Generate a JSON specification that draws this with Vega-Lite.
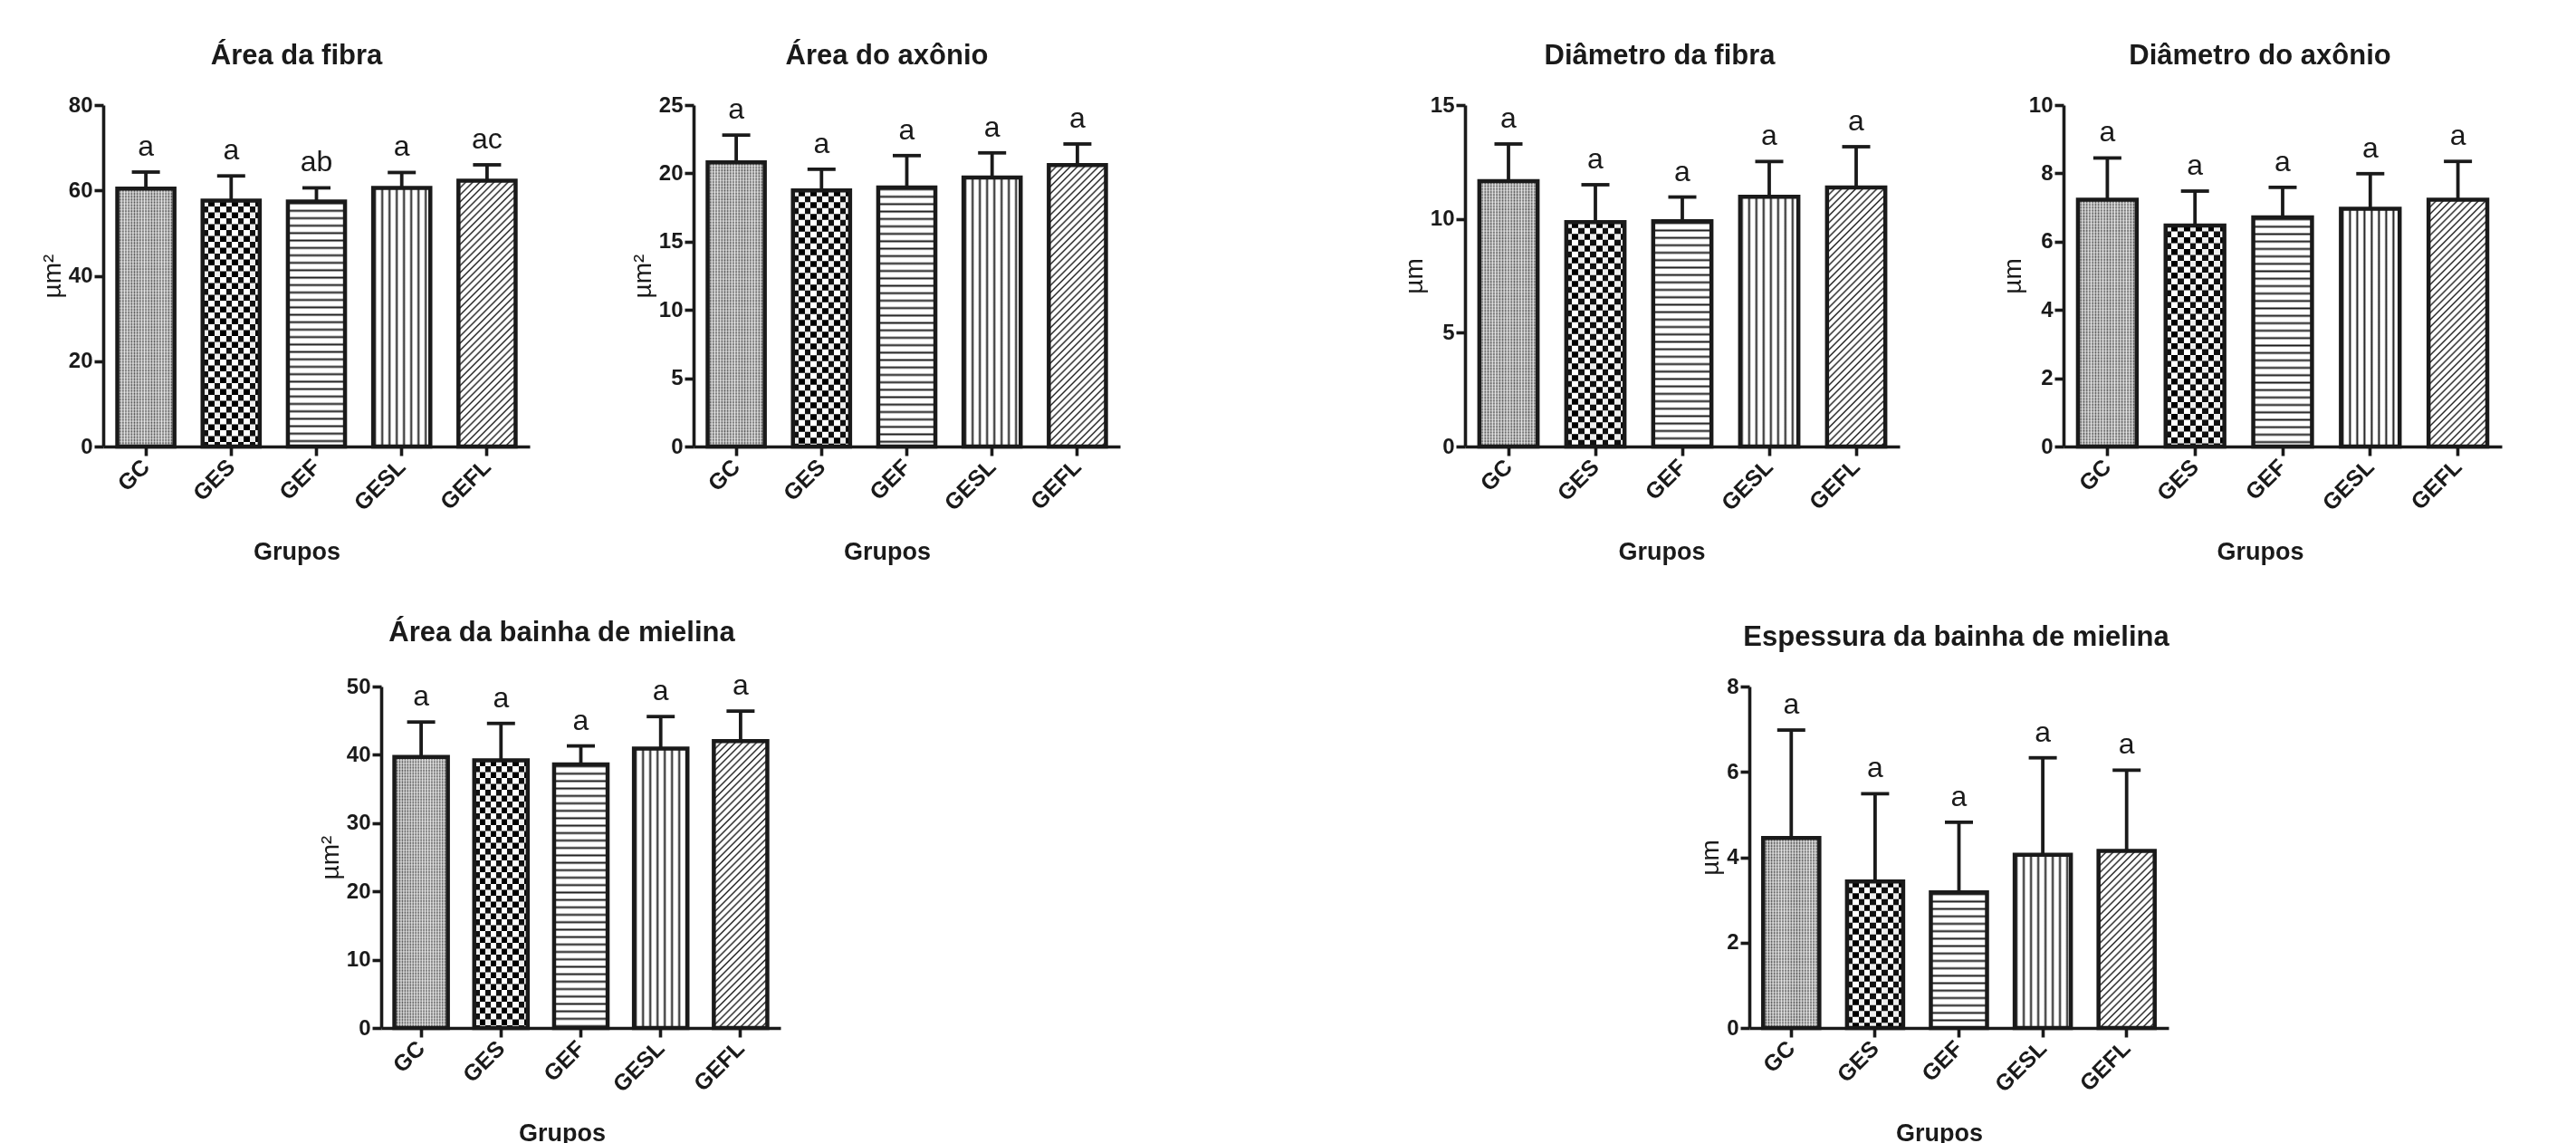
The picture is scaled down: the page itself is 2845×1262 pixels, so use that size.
{
"$schema":"https://vega.github.io/schema/vega-lite/v6.json",
"background":"white",
"padding":{"left":44,"top":46,"right":5,"bottom":5},
"config":{
"font":"Liberation Sans",
"view":{"stroke":null},
"title":{"fontSize":31,"fontWeight":"bold","color":"#1a1a1a","offset":26,"frame":"group","anchor":"middle"},
"axis":{"domainColor":"#1a1a1a","domainWidth":3.6,"tickColor":"#1a1a1a","tickWidth":3.6,"tickSize":10,"labelFontWeight":"bold","labelFontSize":24,"labelColor":"#1a1a1a","titleColor":"#1a1a1a","grid":false},
"axisX":{"labelAngle":-45,"labelAlign":"right","labelBaseline":"middle","labelFontSize":25,"labelPadding":8,"labelOverlap":false,"titleFontSize":27,"titleFontWeight":"bold","titleY":116,"titleBaseline":"middle"},
"axisY":{"labelPadding":2,"titleFontSize":28,"titleFontWeight":"normal","titlePadding":3}
},
"params":[
{"name":"hs","value":[
{"offset":0,"color":"#fff"},{"offset":0.005,"color":"#1a1a1a"},{"offset":0.01,"color":"#fff"},
{"offset":0.02,"color":"#fff"},{"offset":0.025,"color":"#1a1a1a"},{"offset":0.03,"color":"#fff"},
{"offset":0.04,"color":"#fff"},{"offset":0.045,"color":"#1a1a1a"},{"offset":0.05,"color":"#fff"},
{"offset":0.06,"color":"#fff"},{"offset":0.065,"color":"#1a1a1a"},{"offset":0.07,"color":"#fff"},
{"offset":0.08,"color":"#fff"},{"offset":0.085,"color":"#1a1a1a"},{"offset":0.09,"color":"#fff"},
{"offset":0.1,"color":"#fff"},{"offset":0.105,"color":"#1a1a1a"},{"offset":0.11,"color":"#fff"},
{"offset":0.12,"color":"#fff"},{"offset":0.125,"color":"#1a1a1a"},{"offset":0.13,"color":"#fff"},
{"offset":0.14,"color":"#fff"},{"offset":0.145,"color":"#1a1a1a"},{"offset":0.15,"color":"#fff"},
{"offset":0.16,"color":"#fff"},{"offset":0.165,"color":"#1a1a1a"},{"offset":0.17,"color":"#fff"},
{"offset":0.18,"color":"#fff"},{"offset":0.185,"color":"#1a1a1a"},{"offset":0.19,"color":"#fff"},
{"offset":0.2,"color":"#fff"},{"offset":0.205,"color":"#1a1a1a"},{"offset":0.21,"color":"#fff"},
{"offset":0.22,"color":"#fff"},{"offset":0.225,"color":"#1a1a1a"},{"offset":0.23,"color":"#fff"},
{"offset":0.24,"color":"#fff"},{"offset":0.245,"color":"#1a1a1a"},{"offset":0.25,"color":"#fff"},
{"offset":0.26,"color":"#fff"},{"offset":0.265,"color":"#1a1a1a"},{"offset":0.27,"color":"#fff"},
{"offset":0.28,"color":"#fff"},{"offset":0.285,"color":"#1a1a1a"},{"offset":0.29,"color":"#fff"},
{"offset":0.3,"color":"#fff"},{"offset":0.305,"color":"#1a1a1a"},{"offset":0.31,"color":"#fff"},
{"offset":0.32,"color":"#fff"},{"offset":0.325,"color":"#1a1a1a"},{"offset":0.33,"color":"#fff"},
{"offset":0.34,"color":"#fff"},{"offset":0.345,"color":"#1a1a1a"},{"offset":0.35,"color":"#fff"},
{"offset":0.36,"color":"#fff"},{"offset":0.365,"color":"#1a1a1a"},{"offset":0.37,"color":"#fff"},
{"offset":0.38,"color":"#fff"},{"offset":0.385,"color":"#1a1a1a"},{"offset":0.39,"color":"#fff"},
{"offset":0.4,"color":"#fff"},{"offset":0.405,"color":"#1a1a1a"},{"offset":0.41,"color":"#fff"},
{"offset":0.42,"color":"#fff"},{"offset":0.425,"color":"#1a1a1a"},{"offset":0.43,"color":"#fff"},
{"offset":0.44,"color":"#fff"},{"offset":0.445,"color":"#1a1a1a"},{"offset":0.45,"color":"#fff"},
{"offset":0.46,"color":"#fff"},{"offset":0.465,"color":"#1a1a1a"},{"offset":0.47,"color":"#fff"},
{"offset":0.48,"color":"#fff"},{"offset":0.485,"color":"#1a1a1a"},{"offset":0.49,"color":"#fff"},
{"offset":0.5,"color":"#fff"},{"offset":0.505,"color":"#1a1a1a"},{"offset":0.51,"color":"#fff"},
{"offset":0.52,"color":"#fff"},{"offset":0.525,"color":"#1a1a1a"},{"offset":0.53,"color":"#fff"},
{"offset":0.54,"color":"#fff"},{"offset":0.545,"color":"#1a1a1a"},{"offset":0.55,"color":"#fff"},
{"offset":0.56,"color":"#fff"},{"offset":0.565,"color":"#1a1a1a"},{"offset":0.57,"color":"#fff"},
{"offset":0.58,"color":"#fff"},{"offset":0.585,"color":"#1a1a1a"},{"offset":0.59,"color":"#fff"},
{"offset":0.6,"color":"#fff"},{"offset":0.605,"color":"#1a1a1a"},{"offset":0.61,"color":"#fff"},
{"offset":0.62,"color":"#fff"},{"offset":0.625,"color":"#1a1a1a"},{"offset":0.63,"color":"#fff"},
{"offset":0.64,"color":"#fff"},{"offset":0.645,"color":"#1a1a1a"},{"offset":0.65,"color":"#fff"},
{"offset":0.66,"color":"#fff"},{"offset":0.665,"color":"#1a1a1a"},{"offset":0.67,"color":"#fff"},
{"offset":0.68,"color":"#fff"},{"offset":0.685,"color":"#1a1a1a"},{"offset":0.69,"color":"#fff"},
{"offset":0.7,"color":"#fff"},{"offset":0.705,"color":"#1a1a1a"},{"offset":0.71,"color":"#fff"},
{"offset":0.72,"color":"#fff"},{"offset":0.725,"color":"#1a1a1a"},{"offset":0.73,"color":"#fff"},
{"offset":0.74,"color":"#fff"},{"offset":0.745,"color":"#1a1a1a"},{"offset":0.75,"color":"#fff"},
{"offset":0.76,"color":"#fff"},{"offset":0.765,"color":"#1a1a1a"},{"offset":0.77,"color":"#fff"},
{"offset":0.78,"color":"#fff"},{"offset":0.785,"color":"#1a1a1a"},{"offset":0.79,"color":"#fff"},
{"offset":0.8,"color":"#fff"},{"offset":0.805,"color":"#1a1a1a"},{"offset":0.81,"color":"#fff"},
{"offset":0.82,"color":"#fff"},{"offset":0.825,"color":"#1a1a1a"},{"offset":0.83,"color":"#fff"},
{"offset":0.84,"color":"#fff"},{"offset":0.845,"color":"#1a1a1a"},{"offset":0.85,"color":"#fff"},
{"offset":0.86,"color":"#fff"},{"offset":0.865,"color":"#1a1a1a"},{"offset":0.87,"color":"#fff"},
{"offset":0.88,"color":"#fff"},{"offset":0.885,"color":"#1a1a1a"},{"offset":0.89,"color":"#fff"},
{"offset":0.9,"color":"#fff"},{"offset":0.905,"color":"#1a1a1a"},{"offset":0.91,"color":"#fff"},
{"offset":0.92,"color":"#fff"},{"offset":0.925,"color":"#1a1a1a"},{"offset":0.93,"color":"#fff"},
{"offset":0.94,"color":"#fff"},{"offset":0.945,"color":"#1a1a1a"},{"offset":0.95,"color":"#fff"},
{"offset":0.96,"color":"#fff"},{"offset":0.965,"color":"#1a1a1a"},{"offset":0.97,"color":"#fff"},
{"offset":0.98,"color":"#fff"},{"offset":0.985,"color":"#1a1a1a"},{"offset":0.99,"color":"#fff"},
{"offset":1,"color":"#fff"}
]},
{"name":"gSq","value":{"gradient":"linear","x1":0,"y1":0,"x2":1.65,"y2":0,"stops":[
{"offset":0,"color":"#111"},{"offset":0.0625,"color":"#111"},{"offset":0.0625,"color":"#fff"},{"offset":0.125,"color":"#fff"},
{"offset":0.125,"color":"#111"},{"offset":0.1875,"color":"#111"},{"offset":0.1875,"color":"#fff"},{"offset":0.25,"color":"#fff"},
{"offset":0.25,"color":"#111"},{"offset":0.3125,"color":"#111"},{"offset":0.3125,"color":"#fff"},{"offset":0.375,"color":"#fff"},
{"offset":0.375,"color":"#111"},{"offset":0.4375,"color":"#111"},{"offset":0.4375,"color":"#fff"},{"offset":0.5,"color":"#fff"},
{"offset":0.5,"color":"#111"},{"offset":0.5625,"color":"#111"},{"offset":0.5625,"color":"#fff"},{"offset":0.625,"color":"#fff"},
{"offset":0.625,"color":"#111"},{"offset":0.6875,"color":"#111"},{"offset":0.6875,"color":"#fff"},{"offset":0.75,"color":"#fff"},
{"offset":0.75,"color":"#111"},{"offset":0.8125,"color":"#111"},{"offset":0.8125,"color":"#fff"},{"offset":0.875,"color":"#fff"},
{"offset":0.875,"color":"#111"},{"offset":0.9375,"color":"#111"},{"offset":0.9375,"color":"#fff"},{"offset":1,"color":"#fff"}
]}},
{"name":"gFine","value":{"gradient":"linear","x1":0,"y1":0,"x2":1,"y2":0,"stops":[
{"offset":0,"color":"#555"},{"offset":0.025,"color":"#dddddd"},{"offset":0.05,"color":"#555"},{"offset":0.075,"color":"#dddddd"},
{"offset":0.1,"color":"#555"},{"offset":0.125,"color":"#dddddd"},{"offset":0.15,"color":"#555"},{"offset":0.175,"color":"#dddddd"},
{"offset":0.2,"color":"#555"},{"offset":0.225,"color":"#dddddd"},{"offset":0.25,"color":"#555"},{"offset":0.275,"color":"#dddddd"},
{"offset":0.3,"color":"#555"},{"offset":0.325,"color":"#dddddd"},{"offset":0.35,"color":"#555"},{"offset":0.375,"color":"#dddddd"},
{"offset":0.4,"color":"#555"},{"offset":0.425,"color":"#dddddd"},{"offset":0.45,"color":"#555"},{"offset":0.475,"color":"#dddddd"},
{"offset":0.5,"color":"#555"},{"offset":0.525,"color":"#dddddd"},{"offset":0.55,"color":"#555"},{"offset":0.575,"color":"#dddddd"},
{"offset":0.6,"color":"#555"},{"offset":0.625,"color":"#dddddd"},{"offset":0.65,"color":"#555"},{"offset":0.675,"color":"#dddddd"},
{"offset":0.7,"color":"#555"},{"offset":0.725,"color":"#dddddd"},{"offset":0.75,"color":"#555"},{"offset":0.775,"color":"#dddddd"},
{"offset":0.8,"color":"#555"},{"offset":0.825,"color":"#dddddd"},{"offset":0.85,"color":"#555"},{"offset":0.875,"color":"#dddddd"},
{"offset":0.9,"color":"#555"},{"offset":0.925,"color":"#dddddd"},{"offset":0.95,"color":"#555"},{"offset":0.975,"color":"#dddddd"},
{"offset":1,"color":"#555"}
]}}
],
"datasets":{
"p1":[{"grupo":"GC","media":60.4,"limite":64.3,"letra":"a"},{"grupo":"GES","media":57.6,"limite":63.4,"letra":"a"},{"grupo":"GEF","media":57.4,"limite":60.6,"letra":"ab"},{"grupo":"GESL","media":60.6,"limite":64.2,"letra":"a"},{"grupo":"GEFL","media":62.3,"limite":66.0,"letra":"ac"}],
"p2":[{"grupo":"GC","media":20.8,"limite":22.8,"letra":"a"},{"grupo":"GES","media":18.75,"limite":20.3,"letra":"a"},{"grupo":"GEF","media":18.97,"limite":21.3,"letra":"a"},{"grupo":"GESL","media":19.7,"limite":21.5,"letra":"a"},{"grupo":"GEFL","media":20.6,"limite":22.15,"letra":"a"}],
"p3":[{"grupo":"GC","media":11.66,"limite":13.29,"letra":"a"},{"grupo":"GES","media":9.86,"limite":11.5,"letra":"a"},{"grupo":"GEF","media":9.9,"limite":10.96,"letra":"a"},{"grupo":"GESL","media":10.97,"limite":12.52,"letra":"a"},{"grupo":"GEFL","media":11.38,"limite":13.17,"letra":"a"}],
"p4":[{"grupo":"GC","media":7.23,"limite":8.45,"letra":"a"},{"grupo":"GES","media":6.47,"limite":7.48,"letra":"a"},{"grupo":"GEF","media":6.71,"limite":7.59,"letra":"a"},{"grupo":"GESL","media":6.96,"limite":7.99,"letra":"a"},{"grupo":"GEFL","media":7.23,"limite":8.35,"letra":"a"}],
"p5":[{"grupo":"GC","media":39.7,"limite":44.8,"letra":"a"},{"grupo":"GES","media":39.2,"limite":44.6,"letra":"a"},{"grupo":"GEF","media":38.6,"limite":41.3,"letra":"a"},{"grupo":"GESL","media":40.9,"limite":45.6,"letra":"a"},{"grupo":"GEFL","media":42.0,"limite":46.4,"letra":"a"}],
"p6":[{"grupo":"GC","media":4.45,"limite":6.98,"letra":"a"},{"grupo":"GES","media":3.43,"limite":5.49,"letra":"a"},{"grupo":"GEF","media":3.18,"limite":4.82,"letra":"a"},{"grupo":"GESL","media":4.06,"limite":6.33,"letra":"a"},{"grupo":"GEFL","media":4.15,"limite":6.04,"letra":"a"}]
},
"bounds":"flush",
"spacing":642,
"vconcat":[
{"bounds":"flush","spacing":181,"hconcat":[
{"width":471,"height":377,"data":{"name":"p1"},"title":{"text":"Área da fibra","dx":-22},
"encoding":{"x":{"field":"grupo","type":"nominal","sort":["GC","GES","GEF","GESL","GEFL"],"scale":{"paddingInner":0.33,"paddingOuter":0.165},"axis":{"title":"Grupos","titleX":213.5}},
"y":{"field":"media","type":"quantitative","scale":{"domain":[0,80],"nice":false},"axis":{"values":[0,20,40,60,80],"title":"µm²"}}},
"layer":[
{"transform":[{"filter":"datum.grupo==='GC'"}],"mark":{"type":"bar","fill":{"expr":"gFine"},"strokeWidth":0}},
{"transform":[{"filter":"datum.grupo==='GC'"}],"mark":{"type":"rule","stroke":"#ffffff","strokeWidth":63.1,"strokeDash":[1.6,1.6],"opacity":0.4},"encoding":{"y2":{"datum":0}}},
{"transform":[{"filter":"datum.grupo==='GES'"}],"mark":{"type":"bar","fill":{"expr":"gSq"},"strokeWidth":0}},
{"transform":[{"filter":"datum.grupo==='GES'"}],"mark":{"type":"rule","stroke":"#ffffff","strokeWidth":63.1,"strokeDash":[6.5,6.5],"blend":"difference"},"encoding":{"y2":{"datum":0}}},
{"transform":[{"filter":"datum.grupo==='GEF'"}],"mark":{"type":"bar","fill":{"expr":"{gradient:'linear',x1:0,y1:0,x2:0,y2:1.516,stops:hs}"},"strokeWidth":0}},
{"transform":[{"filter":"datum.grupo==='GESL'"}],"mark":{"type":"bar","fill":{"expr":"{gradient:'linear',x1:0,y1:0,x2:6.339,y2:0,stops:hs}"},"strokeWidth":0}},
{"transform":[{"filter":"datum.grupo==='GEFL'"}],"mark":{"type":"bar","fill":{"expr":"{gradient:'linear',x1:0,y1:0,x2:0.2729,y2:1.2697,stops:hs}"},"strokeWidth":0}},
{"mark":{"type":"bar","fillOpacity":0,"stroke":"#1a1a1a","strokeWidth":4.5}},
{"mark":{"type":"rule","stroke":"#1a1a1a","strokeWidth":3.8},"encoding":{"y":{"field":"limite","type":"quantitative","title":"µm²"},"y2":{"field":"media"}}},
{"mark":{"type":"tick","color":"#1a1a1a","size":31,"thickness":3.8,"opacity":1},"encoding":{"y":{"field":"limite","type":"quantitative","title":"µm²"}}},
{"mark":{"type":"text","dy":-18,"baseline":"alphabetic","fontSize":32,"color":"#1a1a1a"},"encoding":{"y":{"field":"limite","type":"quantitative","title":"µm²"},"text":{"field":"letra","type":"nominal"}}}
]},
{"width":471,"height":377,"data":{"name":"p2"},"title":{"text":"Área do axônio","dx":-22},
"encoding":{"x":{"field":"grupo","type":"nominal","sort":["GC","GES","GEF","GESL","GEFL"],"scale":{"paddingInner":0.33,"paddingOuter":0.165},"axis":{"title":"Grupos","titleX":213.5}},
"y":{"field":"media","type":"quantitative","scale":{"domain":[0,25],"nice":false},"axis":{"values":[0,5,10,15,20,25],"title":"µm²"}}},
"layer":[
{"transform":[{"filter":"datum.grupo==='GC'"}],"mark":{"type":"bar","fill":{"expr":"gFine"},"strokeWidth":0}},
{"transform":[{"filter":"datum.grupo==='GC'"}],"mark":{"type":"rule","stroke":"#ffffff","strokeWidth":63.1,"strokeDash":[1.6,1.6],"opacity":0.4},"encoding":{"y2":{"datum":0}}},
{"transform":[{"filter":"datum.grupo==='GES'"}],"mark":{"type":"bar","fill":{"expr":"gSq"},"strokeWidth":0}},
{"transform":[{"filter":"datum.grupo==='GES'"}],"mark":{"type":"rule","stroke":"#ffffff","strokeWidth":63.1,"strokeDash":[6.5,6.5],"blend":"difference"},"encoding":{"y2":{"datum":0}}},
{"transform":[{"filter":"datum.grupo==='GEF'"}],"mark":{"type":"bar","fill":{"expr":"{gradient:'linear',x1:0,y1:0,x2:0,y2:1.433,stops:hs}"},"strokeWidth":0}},
{"transform":[{"filter":"datum.grupo==='GESL'"}],"mark":{"type":"bar","fill":{"expr":"{gradient:'linear',x1:0,y1:0,x2:6.339,y2:0,stops:hs}"},"strokeWidth":0}},
{"transform":[{"filter":"datum.grupo==='GEFL'"}],"mark":{"type":"bar","fill":{"expr":"{gradient:'linear',x1:0,y1:0,x2:0.2450,y2:1.2059,stops:hs}"},"strokeWidth":0}},
{"mark":{"type":"bar","fillOpacity":0,"stroke":"#1a1a1a","strokeWidth":4.5}},
{"mark":{"type":"rule","stroke":"#1a1a1a","strokeWidth":3.8},"encoding":{"y":{"field":"limite","type":"quantitative","title":"µm²"},"y2":{"field":"media"}}},
{"mark":{"type":"tick","color":"#1a1a1a","size":31,"thickness":3.8,"opacity":1},"encoding":{"y":{"field":"limite","type":"quantitative","title":"µm²"}}},
{"mark":{"type":"text","dy":-18,"baseline":"alphabetic","fontSize":32,"color":"#1a1a1a"},"encoding":{"y":{"field":"limite","type":"quantitative","title":"µm²"},"text":{"field":"letra","type":"nominal"}}}
]},
{"width":19,"height":377,"data":{"values":[]},"mark":"point","encoding":{}},
{"width":480,"height":377,"data":{"name":"p3"},"title":{"text":"Diâmetro da fibra","dx":-25},
"encoding":{"x":{"field":"grupo","type":"nominal","sort":["GC","GES","GEF","GESL","GEFL"],"scale":{"paddingInner":0.33,"paddingOuter":0.165},"axis":{"title":"Grupos","titleX":217}},
"y":{"field":"media","type":"quantitative","scale":{"domain":[0,15],"nice":false},"axis":{"values":[0,5,10,15],"title":"µm"}}},
"layer":[
{"transform":[{"filter":"datum.grupo==='GC'"}],"mark":{"type":"bar","fill":{"expr":"gFine"},"strokeWidth":0}},
{"transform":[{"filter":"datum.grupo==='GC'"}],"mark":{"type":"rule","stroke":"#ffffff","strokeWidth":64.3,"strokeDash":[1.6,1.6],"opacity":0.4},"encoding":{"y2":{"datum":0}}},
{"transform":[{"filter":"datum.grupo==='GES'"}],"mark":{"type":"bar","fill":{"expr":"gSq"},"strokeWidth":0}},
{"transform":[{"filter":"datum.grupo==='GES'"}],"mark":{"type":"rule","stroke":"#ffffff","strokeWidth":64.3,"strokeDash":[6.5,6.5],"blend":"difference"},"encoding":{"y2":{"datum":0}}},
{"transform":[{"filter":"datum.grupo==='GEF'"}],"mark":{"type":"bar","fill":{"expr":"{gradient:'linear',x1:0,y1:0,x2:0,y2:1.648,stops:hs}"},"strokeWidth":0}},
{"transform":[{"filter":"datum.grupo==='GESL'"}],"mark":{"type":"bar","fill":{"expr":"{gradient:'linear',x1:0,y1:0,x2:6.219,y2:0,stops:hs}"},"strokeWidth":0}},
{"transform":[{"filter":"datum.grupo==='GEFL'"}],"mark":{"type":"bar","fill":{"expr":"{gradient:'linear',x1:0,y1:0,x2:0.2918,y2:1.2980,stops:hs}"},"strokeWidth":0}},
{"mark":{"type":"bar","fillOpacity":0,"stroke":"#1a1a1a","strokeWidth":4.5}},
{"mark":{"type":"rule","stroke":"#1a1a1a","strokeWidth":3.8},"encoding":{"y":{"field":"limite","type":"quantitative","title":"µm"},"y2":{"field":"media"}}},
{"mark":{"type":"tick","color":"#1a1a1a","size":31,"thickness":3.8,"opacity":1},"encoding":{"y":{"field":"limite","type":"quantitative","title":"µm"}}},
{"mark":{"type":"text","dy":-18,"baseline":"alphabetic","fontSize":32,"color":"#1a1a1a"},"encoding":{"y":{"field":"limite","type":"quantitative","title":"µm"},"text":{"field":"letra","type":"nominal"}}}
]},
{"width":484,"height":377,"data":{"name":"p4"},"title":{"text":"Diâmetro do axônio","dx":-25},
"encoding":{"x":{"field":"grupo","type":"nominal","sort":["GC","GES","GEF","GESL","GEFL"],"scale":{"paddingInner":0.33,"paddingOuter":0.165},"axis":{"title":"Grupos","titleX":217}},
"y":{"field":"media","type":"quantitative","scale":{"domain":[0,10],"nice":false},"axis":{"values":[0,2,4,6,8,10],"title":"µm"}}},
"layer":[
{"transform":[{"filter":"datum.grupo==='GC'"}],"mark":{"type":"bar","fill":{"expr":"gFine"},"strokeWidth":0}},
{"transform":[{"filter":"datum.grupo==='GC'"}],"mark":{"type":"rule","stroke":"#ffffff","strokeWidth":64.9,"strokeDash":[1.6,1.6],"opacity":0.4},"encoding":{"y2":{"datum":0}}},
{"transform":[{"filter":"datum.grupo==='GES'"}],"mark":{"type":"bar","fill":{"expr":"gSq"},"strokeWidth":0}},
{"transform":[{"filter":"datum.grupo==='GES'"}],"mark":{"type":"rule","stroke":"#ffffff","strokeWidth":64.9,"strokeDash":[6.5,6.5],"blend":"difference"},"encoding":{"y2":{"datum":0}}},
{"transform":[{"filter":"datum.grupo==='GEF'"}],"mark":{"type":"bar","fill":{"expr":"{gradient:'linear',x1:0,y1:0,x2:0,y2:1.621,stops:hs}"},"strokeWidth":0}},
{"transform":[{"filter":"datum.grupo==='GESL'"}],"mark":{"type":"bar","fill":{"expr":"{gradient:'linear',x1:0,y1:0,x2:6.167,y2:0,stops:hs}"},"strokeWidth":0}},
{"transform":[{"filter":"datum.grupo==='GEFL'"}],"mark":{"type":"bar","fill":{"expr":"{gradient:'linear',x1:0,y1:0,x2:0.3223,y2:1.3539,stops:hs}"},"strokeWidth":0}},
{"mark":{"type":"bar","fillOpacity":0,"stroke":"#1a1a1a","strokeWidth":4.5}},
{"mark":{"type":"rule","stroke":"#1a1a1a","strokeWidth":3.8},"encoding":{"y":{"field":"limite","type":"quantitative","title":"µm"},"y2":{"field":"media"}}},
{"mark":{"type":"tick","color":"#1a1a1a","size":31,"thickness":3.8,"opacity":1},"encoding":{"y":{"field":"limite","type":"quantitative","title":"µm"}}},
{"mark":{"type":"text","dy":-18,"baseline":"alphabetic","fontSize":32,"color":"#1a1a1a"},"encoding":{"y":{"field":"limite","type":"quantitative","title":"µm"},"text":{"field":"letra","type":"nominal"}}}
]}
]},
{"bounds":"flush","spacing":181,"hconcat":[
{"width":126,"height":377,"data":{"values":[]},"mark":"point","encoding":{}},
{"width":441,"height":377,"data":{"name":"p5"},"title":{"text":"Área da bainha de mielina","dx":-21},
"encoding":{"x":{"field":"grupo","type":"nominal","sort":["GC","GES","GEF","GESL","GEFL"],"scale":{"paddingInner":0.33,"paddingOuter":0.165},"axis":{"title":"Grupos","titleX":199.5}},
"y":{"field":"media","type":"quantitative","scale":{"domain":[0,50],"nice":false},"axis":{"values":[0,10,20,30,40,50],"title":"µm²"}}},
"layer":[
{"transform":[{"filter":"datum.grupo==='GC'"}],"mark":{"type":"bar","fill":{"expr":"gFine"},"strokeWidth":0}},
{"transform":[{"filter":"datum.grupo==='GC'"}],"mark":{"type":"rule","stroke":"#ffffff","strokeWidth":59.1,"strokeDash":[1.6,1.6],"opacity":0.4},"encoding":{"y2":{"datum":0}}},
{"transform":[{"filter":"datum.grupo==='GES'"}],"mark":{"type":"bar","fill":{"expr":"gSq"},"strokeWidth":0}},
{"transform":[{"filter":"datum.grupo==='GES'"}],"mark":{"type":"rule","stroke":"#ffffff","strokeWidth":59.1,"strokeDash":[6.5,6.5],"blend":"difference"},"encoding":{"y2":{"datum":0}}},
{"transform":[{"filter":"datum.grupo==='GEF'"}],"mark":{"type":"bar","fill":{"expr":"{gradient:'linear',x1:0,y1:0,x2:0,y2:1.409,stops:hs}"},"strokeWidth":0}},
{"transform":[{"filter":"datum.grupo==='GESL'"}],"mark":{"type":"bar","fill":{"expr":"{gradient:'linear',x1:0,y1:0,x2:6.769,y2:0,stops:hs}"},"strokeWidth":0}},
{"transform":[{"filter":"datum.grupo==='GEFL'"}],"mark":{"type":"bar","fill":{"expr":"{gradient:'linear',x1:0,y1:0,x2:0.2221,y2:1.1900,stops:hs}"},"strokeWidth":0}},
{"mark":{"type":"bar","fillOpacity":0,"stroke":"#1a1a1a","strokeWidth":4.5}},
{"mark":{"type":"rule","stroke":"#1a1a1a","strokeWidth":3.8},"encoding":{"y":{"field":"limite","type":"quantitative","title":"µm²"},"y2":{"field":"media"}}},
{"mark":{"type":"tick","color":"#1a1a1a","size":31,"thickness":3.8,"opacity":1},"encoding":{"y":{"field":"limite","type":"quantitative","title":"µm²"}}},
{"mark":{"type":"text","dy":-18,"baseline":"alphabetic","fontSize":32,"color":"#1a1a1a"},"encoding":{"y":{"field":"limite","type":"quantitative","title":"µm²"},"text":{"field":"letra","type":"nominal"}}}
]},
{"width":708,"height":377,"data":{"values":[]},"mark":"point","encoding":{}},
{"width":463,"height":377,"data":{"name":"p6"},"title":{"text":"Espessura da bainha de mielina","dx":-3},
"encoding":{"x":{"field":"grupo","type":"nominal","sort":["GC","GES","GEF","GESL","GEFL"],"scale":{"paddingInner":0.33,"paddingOuter":0.165},"axis":{"title":"Grupos","titleX":209.5}},
"y":{"field":"media","type":"quantitative","scale":{"domain":[0,8],"nice":false},"axis":{"values":[0,2,4,6,8],"title":"µm"}}},
"layer":[
{"transform":[{"filter":"datum.grupo==='GC'"}],"mark":{"type":"bar","fill":{"expr":"gFine"},"strokeWidth":0}},
{"transform":[{"filter":"datum.grupo==='GC'"}],"mark":{"type":"rule","stroke":"#ffffff","strokeWidth":62.0,"strokeDash":[1.6,1.6],"opacity":0.4},"encoding":{"y2":{"datum":0}}},
{"transform":[{"filter":"datum.grupo==='GES'"}],"mark":{"type":"bar","fill":{"expr":"gSq"},"strokeWidth":0}},
{"transform":[{"filter":"datum.grupo==='GES'"}],"mark":{"type":"rule","stroke":"#ffffff","strokeWidth":62.0,"strokeDash":[6.5,6.5],"blend":"difference"},"encoding":{"y2":{"datum":0}}},
{"transform":[{"filter":"datum.grupo==='GEF'"}],"mark":{"type":"bar","fill":{"expr":"{gradient:'linear',x1:0,y1:0,x2:0,y2:2.735,stops:hs}"},"strokeWidth":0}},
{"transform":[{"filter":"datum.grupo==='GESL'"}],"mark":{"type":"bar","fill":{"expr":"{gradient:'linear',x1:0,y1:0,x2:6.447,y2:0,stops:hs}"},"strokeWidth":0}},
{"transform":[{"filter":"datum.grupo==='GEFL'"}],"mark":{"type":"bar","fill":{"expr":"{gradient:'linear',x1:0,y1:0,x2:0.5743,y2:1.8118,stops:hs}"},"strokeWidth":0}},
{"mark":{"type":"bar","fillOpacity":0,"stroke":"#1a1a1a","strokeWidth":4.5}},
{"mark":{"type":"rule","stroke":"#1a1a1a","strokeWidth":3.8},"encoding":{"y":{"field":"limite","type":"quantitative","title":"µm"},"y2":{"field":"media"}}},
{"mark":{"type":"tick","color":"#1a1a1a","size":31,"thickness":3.8,"opacity":1},"encoding":{"y":{"field":"limite","type":"quantitative","title":"µm"}}},
{"mark":{"type":"text","dy":-18,"baseline":"alphabetic","fontSize":32,"color":"#1a1a1a"},"encoding":{"y":{"field":"limite","type":"quantitative","title":"µm"},"text":{"field":"letra","type":"nominal"}}}
]}
]}
]
}
